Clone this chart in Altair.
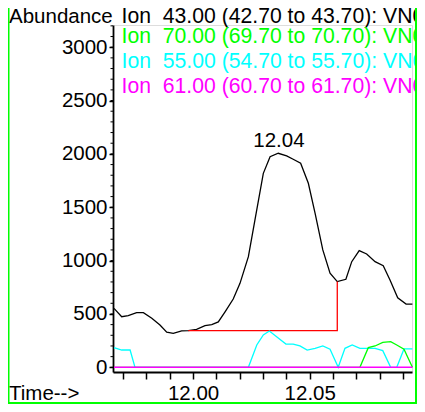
import altair as alt
import pandas as pd

# ---------------- data ----------------
time43 = [11.9661, 11.9694, 11.9722, 11.9758, 11.9787, 11.9823, 11.9858, 11.9887,
          11.9915, 11.9951, 11.9979, 12.0015, 12.0051, 12.0080, 12.0108, 12.0137,
          12.0172, 12.0201, 12.0237, 12.0265, 12.0301, 12.0330, 12.0365, 12.0401,
          12.0429, 12.0461, 12.0494, 12.0523, 12.0556, 12.0587, 12.0618, 12.0655,
          12.0680, 12.0712, 12.0744, 12.0780, 12.0815, 12.0844, 12.0877, 12.0913,
          12.0940]
abund43 = [552, 474, 484, 512, 512, 460, 397, 330,
           319, 342, 343, 356, 390, 400, 425, 520,
           640, 787, 1037, 1380, 1818, 1974, 2006, 1981,
           1950, 1912, 1725, 1443, 1100, 881, 803, 825,
           990, 1093, 1062, 990, 953, 818, 652, 593,
           593]

time55 = [11.9661, 11.9694, 11.9730, 11.9751, 12.0237, 12.0273, 12.0301, 12.0327,
          12.0358, 12.0398, 12.0429, 12.0458, 12.0489, 12.0523, 12.0556, 12.0587,
          12.0622, 12.0651, 12.0682, 12.0715, 12.0751, 12.0780, 12.0813, 12.0847,
          12.0873, 12.0904, 12.0940]
abund55 = [184, 162, 162, 0, 0, 209, 303, 340,
           287, 218, 218, 200, 162, 178, 200, 169,
           0, 178, 209, 178, 178, 178, 156, 0,
           0, 172, 172]

time70 = [11.9661, 12.0715, 12.0751, 12.0780, 12.0813, 12.0847, 12.0873, 12.0904, 12.0940]
abund70 = [0, 0, 184, 200, 234, 240, 209, 169, 0]

time61 = [11.9661, 12.0940]
abund61 = [0, 0]

base_time = [11.9979, 12.0618, 12.0618]
base_abund = [343, 343, 803]

peak_time = [12.0368]
peak_abund = [2006]
peak_label = ["12.04"]

x_tick_values = [11.97, 11.98, 11.99, 12.00, 12.01, 12.02, 12.03, 12.04, 12.05,
                 12.06, 12.07, 12.08, 12.09]
y_tick_values = [0, 500, 1000, 1500, 2000, 2500, 3000]
y_minor_values = list(range(0, 3201, 100))

legend_lines = [
    "Ion\u00a0 43.00 (42.70 to 43.70): VN0",
    "Ion\u00a0 70.00 (69.70 to 70.70): VN0",
    "Ion\u00a0 55.00 (54.70 to 55.70): VN0",
    "Ion\u00a0 61.00 (60.70 to 61.70): VN0",
]
legend_colors = ["#000000", "#00ff00", "#00ffff", "#ff00ff"]
y_title = ["Abundance"]
x_title = ["Time-->"]

X_DOMAIN = [11.96567, 12.09383]
Y_DOMAIN = [-44, 3208]

FONT = "Liberation Sans"
W, H = 299, 347

xscale = alt.Scale(domain=X_DOMAIN, nice=False, zero=False)
yscale = alt.Scale(domain=Y_DOMAIN, nice=False, zero=False)


def frame(times, values):
    return pd.DataFrame({"t": times, "v": values, "i": list(range(len(times)))})


x_axis = alt.Axis(
    values=x_tick_values, title="", grid=False,
    labelExpr="(abs(datum.value-12)<0.000001 || abs(datum.value-12.05)<0.000001) ? format(datum.value,'.2f') : ''",
    labelFontSize=20.5, labelFont=FONT, labelColor="#000000", labelPadding=4.5,
    labelOverlap=False, labelFlush=False,
    tickSize=7, tickWidth=1.5, tickColor="#000000",
    domainColor="#000000", domainWidth=1.8,
)
y_axis = alt.Axis(
    values=y_tick_values, title="", grid=False, format="d",
    labelFontSize=20.5, labelFont=FONT, labelColor="#000000", labelPadding=2,
    labelOverlap=False,
    tickSize=4, tickWidth=1.5, tickColor="#000000",
    domainColor="#000000", domainWidth=1.8,
)

X = alt.X("t:Q", scale=xscale, axis=x_axis)
Y = alt.Y("v:Q", scale=yscale, axis=y_axis)


def line_layer(df, color, width=1.3):
    return alt.Chart(df).mark_line(color=color, strokeWidth=width).encode(
        x=X, y=Y, order="i:Q")


black = line_layer(frame(time43, abund43), "#000000")
red = line_layer(frame(base_time, base_abund), "#ff0000")
cyan = line_layer(frame(time55, abund55), "#00ffff")
green = line_layer(frame(time70, abund70), "#00ff00")
magenta = line_layer(frame(time61, abund61), "#ff00ff", width=1.6)

minor = alt.Chart(pd.DataFrame({"v": y_minor_values})).mark_rule(
    color="#000000", strokeWidth=1).encode(
    y=Y, x=alt.value(-2.5), x2=alt.value(0))

peak = alt.Chart(pd.DataFrame({"t": peak_time, "v": peak_abund, "lab": peak_label})).mark_text(
    font=FONT, fontSize=20.5, color="#000000", baseline="alphabetic", align="center", dy=-6).encode(
    x=X, y=Y, text="lab:N")


def text_layer(label, color, x, y, size):
    return alt.Chart(pd.DataFrame({"lab": [label]})).mark_text(
        font=FONT, fontSize=size, color=color, align="left", baseline="alphabetic").encode(
        x=alt.value(x), y=alt.value(y), text="lab:N")


texts = [text_layer(y_title[0], "#000000", -104, -2, 20.5),
         text_layer(x_title[0], "#000000", -104, 375, 20.5)]
legend_y = [-2, 18.3, 43, 67.5]
for lab, col, yy in zip(legend_lines, legend_colors, legend_y):
    texts.append(text_layer(lab, col, 8.5, yy, 21.2))

dummy = pd.DataFrame({"k": [0]})
left_border = alt.Chart(dummy).mark_rule(color="#00ff00", strokeWidth=2).encode(
    x=alt.value(-104.5), y=alt.value(-17), y2=alt.value(379))
right_border = alt.Chart(dummy).mark_rule(color="#00ff00", strokeWidth=2).encode(
    x=alt.value(303), y=alt.value(-17), y2=alt.value(379))
bottom_border = alt.Chart(dummy).mark_rule(color="#00ff00", strokeWidth=2).encode(
    y=alt.value(378), x=alt.value(-104.5), x2=alt.value(303))

chart = alt.layer(
    black, red, cyan, green, magenta, minor, peak, *texts,
    left_border, right_border, bottom_border,
).properties(
    width=W, height=H,
    autosize=alt.AutoSizeParams(type="none"),
    padding={"left": 105, "top": 17, "right": 5, "bottom": 32},
).configure_view(stroke=None).configure(font=FONT, background="#ffffff")

chart.save("out.html", embed_options={"renderer": "svg", "actions": False})
